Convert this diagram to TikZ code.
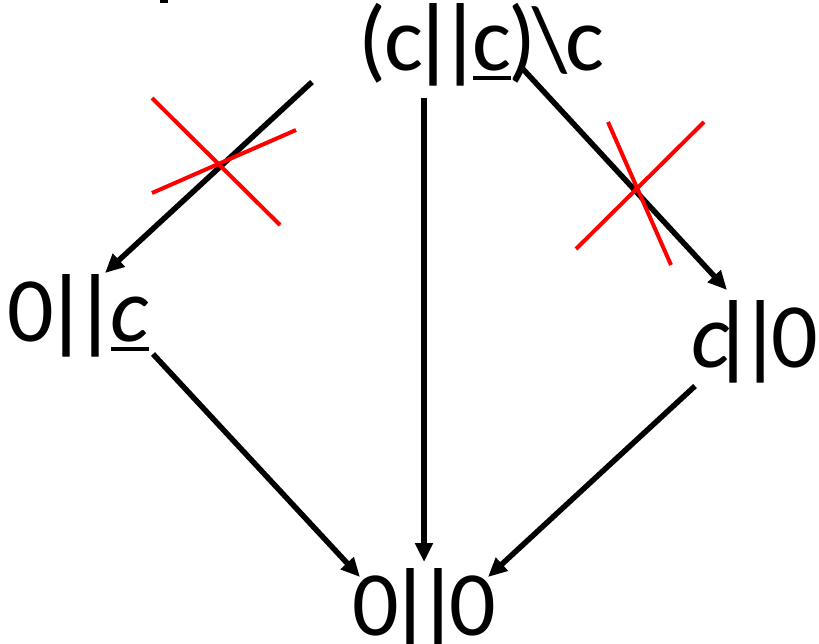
\documentclass[tikz,border=0pt]{standalone}
\usepackage{fontspec}
\setmainfont{Carlito}
\newfontfamily\barfont[FakeBold=1]{Carlito}
\usetikzlibrary{arrows.meta}
\newcommand{\cg}[1]{\hbox to 0pt{\hss#1\hss}}
\newcommand{\br}{\cg{\barfont|}}
\newcommand{\myul}[1]{\setbox0\hbox{#1}\rlap{\rule[-10pt]{\wd0}{4pt}}\box0}
\tikzset{
  lbl/.style={anchor=base, inner sep=0pt, font=\fontsize{92}{92}\selectfont},
  arr/.style={line width=5.5pt, -{Triangle[length=19pt,width=17pt]}},
  cross/.style={red, line width=4pt}
}
\begin{document}
\begin{tikzpicture}[x=1pt,y=-1pt]
\useasboundingbox (0,0) rectangle (819,643);
\fill (160,-2) rectangle (168,3);
\node[lbl] (top) at (478.5,70) {\cg{(}\kern32pt\cg{c}\kern29pt\br\kern27pt\br\kern32pt\cg{\myul{c}}\kern30pt\cg{)}\kern28pt\cg{\textbackslash}\kern35pt\cg{c}};
\node[lbl] (left) at (80.5,341) {\cg{0}\kern35pt\br\kern29pt\br\kern35pt\cg{\myul{\textit{c}}}};
\node[lbl] (right) at (753,367) {\cg{\textit{c}}\kern22pt\br\kern27pt\br\kern35pt\cg{0}};
\node[lbl] (bot) at (424.5,635) {\cg{0}\kern34pt\br\kern28pt\br\kern35pt\cg{0}};
\coordinate (t1) at (312,82);
\coordinate (t2) at (424,98);
\coordinate (t3) at (522,68);
\coordinate (l1) at (105,273);
\coordinate (l2) at (153,354);
\coordinate (r1) at (727,290);
\coordinate (r2) at (695,386);
\coordinate (b1) at (360,577);
\coordinate (b2) at (424,562);
\coordinate (b3) at (488,577);
\draw[arr] (t1) -- (l1);
\draw[arr] (t2) -- (b2);
\draw[arr] (t3) -- (r1);
\draw[arr] (l2) -- (b1);
\draw[arr] (r2) -- (b3);
\coordinate (c1a) at (152,98);
\coordinate (c1b) at (280,225);
\coordinate (c1c) at (152,193);
\coordinate (c1d) at (296,130);
\coordinate (c2a) at (608,122);
\coordinate (c2b) at (671,265);
\coordinate (c2c) at (576,249);
\coordinate (c2d) at (704,122);
\draw[cross] (c1a) -- (c1b);
\draw[cross] (c1c) -- (c1d);
\draw[cross] (c2a) -- (c2b);
\draw[cross] (c2c) -- (c2d);
\end{tikzpicture}
\end{document}
